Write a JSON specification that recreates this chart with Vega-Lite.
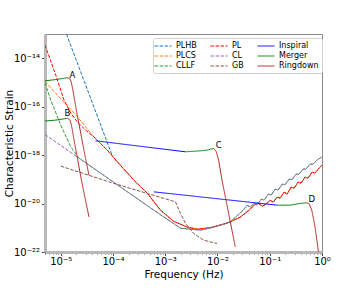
{
  "$schema": "https://vega.github.io/schema/vega-lite/v6.json",
  "width": 277,
  "height": 218,
  "autosize": {"type": "none"},
  "padding": {"left": 45, "top": 34, "right": 38, "bottom": 36},
  "background": "white",
  "config": {
    "font": "DejaVu Sans",
    "view": {"stroke": "#8a8a8a", "strokeWidth": 1},
    "axis": {
      "labelFont": "DejaVu Sans", "titleFont": "DejaVu Sans",
      "labelFontSize": 10, "titleFontSize": 10.5, "titleFontWeight": "normal",
      "grid": false, "domainColor": "#b8b8b8", "domainWidth": 3,
      "tickColor": "#444", "labelColor": "black", "titleColor": "black",
      "labelOverlap": false, "labelFlush": false
    }
  },
  "datasets": {
    "curves": [
      {"s": "PLHB", "e": "1", "f": 1.286e-5, "h": 1e-13},
      {"s": "PLHB", "e": "1", "f": 9.84e-5, "h": 8.6e-19},
      {"s": "PLHB", "e": "1", "f": 1.21e-4, "h": 5.28e-19},
      {"s": "PLHB", "e": "1", "f": 2.508e-4, "h": 9.27e-20},
      {"s": "PLHB", "e": "1", "f": 4.52e-4, "h": 2.69e-20},
      {"s": "PLHB", "e": "1", "f": 8.11e-4, "h": 5.34e-21},
      {"s": "PLHB", "e": "1", "f": 1.435e-3, "h": 1.87e-21},
      {"s": "PLHB", "e": "1", "f": 2.656e-3, "h": 1.059e-21},
      {"s": "PLHB", "e": "1", "f": 4.12e-3, "h": 8.75e-22},
      {"s": "PLHB", "e": "1", "f": 7.29e-3, "h": 1.01e-21},
      {"s": "PLHB", "e": "1", "f": 1.54e-2, "h": 1.55e-21},
      {"s": "PLHB", "e": "1", "f": 2.73e-2, "h": 2.74e-21},
      {"s": "PLHB", "e": "1", "f": 4.23e-2, "h": 5.87e-21},
      {"s": "PLHB", "e": "1", "f": 0.0527, "h": 9.45e-21},
      {"s": "PLHB", "e": "1", "f": 0.0601, "h": 1.04e-20},
      {"s": "PLHB", "e": "1", "f": 0.0717, "h": 7.81e-21},
      {"s": "PLHB", "e": "1", "f": 0.0855, "h": 9.45e-21},
      {"s": "PLHB", "e": "1", "f": 0.1019, "h": 1.38e-20},
      {"s": "PLHB", "e": "1", "f": 0.1162, "h": 1.14e-20},
      {"s": "PLHB", "e": "1", "f": 0.1386, "h": 1.84e-20},
      {"s": "PLHB", "e": "1", "f": 0.1581, "h": 1.67e-20},
      {"s": "PLHB", "e": "1", "f": 0.1885, "h": 2.96e-20},
      {"s": "PLHB", "e": "1", "f": 0.2151, "h": 2.45e-20},
      {"s": "PLHB", "e": "1", "f": 0.2564, "h": 4.76e-20},
      {"s": "PLHB", "e": "1", "f": 0.2925, "h": 4.33e-20},
      {"s": "PLHB", "e": "1", "f": 0.3487, "h": 7.66e-20},
      {"s": "PLHB", "e": "1", "f": 0.398, "h": 6.97e-20},
      {"s": "PLHB", "e": "1", "f": 0.4745, "h": 1.23e-19},
      {"s": "PLHB", "e": "1", "f": 0.5413, "h": 1.12e-19},
      {"s": "PLHB", "e": "1", "f": 0.6452, "h": 1.98e-19},
      {"s": "PLHB", "e": "1", "f": 0.736, "h": 1.8e-19},
      {"s": "PLHB", "e": "1", "f": 0.8776, "h": 2.9e-19},
      {"s": "PLHB", "e": "1", "f": 1.0, "h": 3.86e-19},

      {"s": "PLCS", "e": "1", "f": 5e-6, "h": 1.1e-15},
      {"s": "PLCS", "e": "1", "f": 2.085e-5, "h": 3.83e-17},
      {"s": "PLCS", "e": "1", "f": 4.325e-5, "h": 5.54e-18},
      {"s": "PLCS", "e": "1", "f": 7.79e-5, "h": 1.61e-18},
      {"s": "PLCS", "e": "1", "f": 1.21e-4, "h": 5.28e-19},
      {"s": "PLCS", "e": "1", "f": 2.508e-4, "h": 9.27e-20},
      {"s": "PLCS", "e": "1", "f": 4.52e-4, "h": 2.69e-20},
      {"s": "PLCS", "e": "1", "f": 8.11e-4, "h": 5.34e-21},
      {"s": "PLCS", "e": "1", "f": 1.435e-3, "h": 1.87e-21},
      {"s": "PLCS", "e": "1", "f": 2.656e-3, "h": 1.059e-21},
      {"s": "PLCS", "e": "1", "f": 4.12e-3, "h": 8.75e-22},
      {"s": "PLCS", "e": "1", "f": 7.29e-3, "h": 1.01e-21},
      {"s": "PLCS", "e": "1", "f": 1.54e-2, "h": 1.55e-21},
      {"s": "PLCS", "e": "1", "f": 2.73e-2, "h": 2.74e-21},
      {"s": "PLCS", "e": "1", "f": 4.23e-2, "h": 5.87e-21},
      {"s": "PLCS", "e": "1", "f": 0.0527, "h": 9.45e-21},
      {"s": "PLCS", "e": "1", "f": 0.0601, "h": 1.04e-20},
      {"s": "PLCS", "e": "1", "f": 0.0717, "h": 7.81e-21},
      {"s": "PLCS", "e": "1", "f": 0.0855, "h": 9.45e-21},
      {"s": "PLCS", "e": "1", "f": 0.1019, "h": 1.38e-20},
      {"s": "PLCS", "e": "1", "f": 0.1162, "h": 1.14e-20},
      {"s": "PLCS", "e": "1", "f": 0.1386, "h": 1.84e-20},
      {"s": "PLCS", "e": "1", "f": 0.1581, "h": 1.67e-20},
      {"s": "PLCS", "e": "1", "f": 0.1885, "h": 2.96e-20},
      {"s": "PLCS", "e": "1", "f": 0.2151, "h": 2.45e-20},
      {"s": "PLCS", "e": "1", "f": 0.2564, "h": 4.76e-20},
      {"s": "PLCS", "e": "1", "f": 0.2925, "h": 4.33e-20},
      {"s": "PLCS", "e": "1", "f": 0.3487, "h": 7.66e-20},
      {"s": "PLCS", "e": "1", "f": 0.398, "h": 6.97e-20},
      {"s": "PLCS", "e": "1", "f": 0.4745, "h": 1.23e-19},
      {"s": "PLCS", "e": "1", "f": 0.5413, "h": 1.12e-19},
      {"s": "PLCS", "e": "1", "f": 0.6452, "h": 1.98e-19},
      {"s": "PLCS", "e": "1", "f": 0.736, "h": 1.8e-19},
      {"s": "PLCS", "e": "1", "f": 0.8776, "h": 2.9e-19},
      {"s": "PLCS", "e": "1", "f": 1.0, "h": 3.86e-19},

      {"s": "CLLF", "e": "1", "f": 5e-6, "h": 9.6e-16},
      {"s": "CLLF", "e": "1", "f": 6.45e-6, "h": 1.87e-16},
      {"s": "CLLF", "e": "1", "f": 1.0e-5, "h": 1.74e-17},
      {"s": "CLLF", "e": "1", "f": 1.554e-5, "h": 2.2e-18},
      {"s": "CLLF", "e": "1", "f": 2.21e-5, "h": 7.64e-19},
      {"s": "CLLF", "e": "1", "f": 6.04e-4, "h": 5.34e-21},
      {"s": "CLLF", "e": "1", "f": 1.953e-3, "h": 9.63e-22},
      {"s": "CLLF", "e": "1", "f": 4.7e-3, "h": 7.96e-22},
      {"s": "CLLF", "e": "1", "f": 8.32e-3, "h": 1.059e-21},
      {"s": "CLLF", "e": "1", "f": 1.757e-2, "h": 1.75e-21},
      {"s": "CLLF", "e": "1", "f": 3.11e-2, "h": 5.34e-21},
      {"s": "CLLF", "e": "1", "f": 0.0371, "h": 8.59e-21},
      {"s": "CLLF", "e": "1", "f": 0.0423, "h": 7.1e-21},
      {"s": "CLLF", "e": "1", "f": 0.0504, "h": 1.04e-20},
      {"s": "CLLF", "e": "1", "f": 0.0576, "h": 8.59e-21},
      {"s": "CLLF", "e": "1", "f": 0.0686, "h": 1.52e-20},
      {"s": "CLLF", "e": "1", "f": 0.0783, "h": 1.38e-20},
      {"s": "CLLF", "e": "1", "f": 0.0933, "h": 2.45e-20},
      {"s": "CLLF", "e": "1", "f": 0.1065, "h": 2.22e-20},
      {"s": "CLLF", "e": "1", "f": 0.1269, "h": 3.94e-20},
      {"s": "CLLF", "e": "1", "f": 0.1448, "h": 3.58e-20},
      {"s": "CLLF", "e": "1", "f": 0.1727, "h": 6.33e-20},
      {"s": "CLLF", "e": "1", "f": 0.197, "h": 6.04e-20},
      {"s": "CLLF", "e": "1", "f": 0.2349, "h": 1.02e-19},
      {"s": "CLLF", "e": "1", "f": 0.2679, "h": 9.72e-20},
      {"s": "CLLF", "e": "1", "f": 0.3194, "h": 1.64e-19},
      {"s": "CLLF", "e": "1", "f": 0.3644, "h": 1.64e-19},
      {"s": "CLLF", "e": "1", "f": 0.4346, "h": 2.64e-19},
      {"s": "CLLF", "e": "1", "f": 0.4957, "h": 2.64e-19},
      {"s": "CLLF", "e": "1", "f": 0.5909, "h": 4.25e-19},
      {"s": "CLLF", "e": "1", "f": 0.6742, "h": 4.25e-19},
      {"s": "CLLF", "e": "1", "f": 0.8036, "h": 6.21e-19},
      {"s": "CLLF", "e": "1", "f": 1.0, "h": 8.51e-19},

      {"s": "PL", "e": "1", "f": 5e-6, "h": 3.44e-14},
      {"s": "PL", "e": "1", "f": 8.04e-6, "h": 2.02e-15},
      {"s": "PL", "e": "1", "f": 1.157e-5, "h": 1.87e-16},
      {"s": "PL", "e": "1", "f": 1.554e-5, "h": 5.44e-17},
      {"s": "PL", "e": "1", "f": 2.085e-5, "h": 2.31e-17},
      {"s": "PL", "e": "1", "f": 3.0e-5, "h": 1.079e-17},
      {"s": "PL", "e": "1", "f": 4.325e-5, "h": 5.54e-18},
      {"s": "PL", "e": "1", "f": 7.79e-5, "h": 1.61e-18},
      {"s": "PL", "e": "1", "f": 1.21e-4, "h": 5.28e-19},
      {"s": "PL", "e": "1", "f": 2.508e-4, "h": 9.27e-20},
      {"s": "PL", "e": "1", "f": 4.52e-4, "h": 2.69e-20},
      {"s": "PL", "e": "1", "f": 8.11e-4, "h": 5.34e-21},
      {"s": "PL", "e": "1", "f": 1.435e-3, "h": 1.87e-21},
      {"s": "PL", "e": "1", "f": 2.656e-3, "h": 1.059e-21},
      {"s": "PL", "e": "1", "f": 4.12e-3, "h": 8.75e-22},
      {"s": "PL", "e": "1", "f": 7.29e-3, "h": 1.01e-21},
      {"s": "PL", "e": "1", "f": 1.54e-2, "h": 1.55e-21},
      {"s": "PL", "e": "1", "f": 2.73e-2, "h": 2.74e-21},
      {"s": "PL", "e": "1", "f": 4.23e-2, "h": 5.87e-21},
      {"s": "PL", "e": "1", "f": 0.0527, "h": 9.45e-21},
      {"s": "PL", "e": "1", "f": 0.0601, "h": 1.04e-20},
      {"s": "PL", "e": "1", "f": 0.0717, "h": 7.81e-21},
      {"s": "PL", "e": "1", "f": 0.0855, "h": 9.45e-21},
      {"s": "PL", "e": "1", "f": 0.1019, "h": 1.38e-20},
      {"s": "PL", "e": "1", "f": 0.1162, "h": 1.14e-20},
      {"s": "PL", "e": "1", "f": 0.1386, "h": 1.84e-20},
      {"s": "PL", "e": "1", "f": 0.1581, "h": 1.67e-20},
      {"s": "PL", "e": "1", "f": 0.1885, "h": 2.96e-20},
      {"s": "PL", "e": "1", "f": 0.2151, "h": 2.45e-20},
      {"s": "PL", "e": "1", "f": 0.2564, "h": 4.76e-20},
      {"s": "PL", "e": "1", "f": 0.2925, "h": 4.33e-20},
      {"s": "PL", "e": "1", "f": 0.3487, "h": 7.66e-20},
      {"s": "PL", "e": "1", "f": 0.398, "h": 6.97e-20},
      {"s": "PL", "e": "1", "f": 0.4745, "h": 1.23e-19},
      {"s": "PL", "e": "1", "f": 0.5413, "h": 1.12e-19},
      {"s": "PL", "e": "1", "f": 0.6452, "h": 1.98e-19},
      {"s": "PL", "e": "1", "f": 0.736, "h": 1.8e-19},
      {"s": "PL", "e": "1", "f": 0.8776, "h": 2.9e-19},
      {"s": "PL", "e": "1", "f": 1.0, "h": 3.86e-19},

      {"s": "CL", "e": "1", "f": 5e-6, "h": 7.1e-18},
      {"s": "CL", "e": "1", "f": 6.04e-4, "h": 5.34e-21},
      {"s": "CL", "e": "1", "f": 1.953e-3, "h": 9.63e-22},
      {"s": "CL", "e": "1", "f": 4.7e-3, "h": 7.96e-22},
      {"s": "CL", "e": "1", "f": 8.32e-3, "h": 1.059e-21},
      {"s": "CL", "e": "1", "f": 1.757e-2, "h": 1.75e-21},
      {"s": "CL", "e": "1", "f": 3.11e-2, "h": 5.34e-21},
      {"s": "CL", "e": "1", "f": 0.0371, "h": 8.59e-21},
      {"s": "CL", "e": "1", "f": 0.0423, "h": 7.1e-21},
      {"s": "CL", "e": "1", "f": 0.0504, "h": 1.04e-20},
      {"s": "CL", "e": "1", "f": 0.0576, "h": 8.59e-21},
      {"s": "CL", "e": "1", "f": 0.0686, "h": 1.52e-20},
      {"s": "CL", "e": "1", "f": 0.0783, "h": 1.38e-20},
      {"s": "CL", "e": "1", "f": 0.0933, "h": 2.45e-20},
      {"s": "CL", "e": "1", "f": 0.1065, "h": 2.22e-20},
      {"s": "CL", "e": "1", "f": 0.1269, "h": 3.94e-20},
      {"s": "CL", "e": "1", "f": 0.1448, "h": 3.58e-20},
      {"s": "CL", "e": "1", "f": 0.1727, "h": 6.33e-20},
      {"s": "CL", "e": "1", "f": 0.197, "h": 6.04e-20},
      {"s": "CL", "e": "1", "f": 0.2349, "h": 1.02e-19},
      {"s": "CL", "e": "1", "f": 0.2679, "h": 9.72e-20},
      {"s": "CL", "e": "1", "f": 0.3194, "h": 1.64e-19},
      {"s": "CL", "e": "1", "f": 0.3644, "h": 1.64e-19},
      {"s": "CL", "e": "1", "f": 0.4346, "h": 2.64e-19},
      {"s": "CL", "e": "1", "f": 0.4957, "h": 2.64e-19},
      {"s": "CL", "e": "1", "f": 0.5909, "h": 4.25e-19},
      {"s": "CL", "e": "1", "f": 0.6742, "h": 4.25e-19},
      {"s": "CL", "e": "1", "f": 0.8036, "h": 6.21e-19},
      {"s": "CL", "e": "1", "f": 1.0, "h": 8.51e-19},

      {"s": "GB", "e": "1", "f": 1.0e-5, "h": 3.51e-19},
      {"s": "GB", "e": "1", "f": 1.042e-4, "h": 6.77e-20},
      {"s": "GB", "e": "1", "f": 1.567e-3, "h": 1.175e-20},
      {"s": "GB", "e": "1", "f": 1.953e-3, "h": 3.9e-21},
      {"s": "GB", "e": "1", "f": 2.432e-3, "h": 1.55e-21},
      {"s": "GB", "e": "1", "f": 3.5e-3, "h": 5.81e-22},
      {"s": "GB", "e": "1", "f": 5.44e-3, "h": 3.07e-22},
      {"s": "GB", "e": "1", "f": 9.79e-3, "h": 2.24e-22},

      {"s": "Inspiral", "e": "C", "f": 4.66e-5, "h": 3.9e-18},
      {"s": "Inspiral", "e": "C", "f": 2.432e-3, "h": 1.37e-18},
      {"s": "Inspiral", "e": "D", "f": 6.04e-4, "h": 3.04e-20},
      {"s": "Inspiral", "e": "D", "f": 0.1368, "h": 8.59e-21},

      {"s": "Merger", "e": "A", "f": 5e-6, "h": 1.164e-15},
      {"s": "Merger", "e": "A", "f": 8.04e-6, "h": 1.317e-15},
      {"s": "Merger", "e": "A", "f": 1.344e-5, "h": 1.56e-15},
      {"s": "Merger", "e": "B", "f": 5e-6, "h": 2.54e-17},
      {"s": "Merger", "e": "B", "f": 8.04e-6, "h": 2.79e-17},
      {"s": "Merger", "e": "B", "f": 1.344e-5, "h": 3.29e-17},
      {"s": "Merger", "e": "C", "f": 2.432e-3, "h": 1.37e-18},
      {"s": "Merger", "e": "C", "f": 4.7e-3, "h": 1.505e-18},
      {"s": "Merger", "e": "C", "f": 6.39e-3, "h": 1.61e-18},
      {"s": "Merger", "e": "C", "f": 8.43e-3, "h": 1.89e-18},
      {"s": "Merger", "e": "D", "f": 0.1368, "h": 8.59e-21},
      {"s": "Merger", "e": "D", "f": 0.2454, "h": 8.59e-21},
      {"s": "Merger", "e": "D", "f": 0.381, "h": 1.01e-20},
      {"s": "Merger", "e": "D", "f": 0.511, "h": 1.07e-20},

      {"s": "Ringdown", "e": "A", "f": 1.344e-5, "h": 1.56e-15},
      {"s": "Ringdown", "e": "A", "f": 1.487e-5, "h": 1.45e-15},
      {"s": "Ringdown", "e": "A", "f": 1.588e-5, "h": 1.039e-15},
      {"s": "Ringdown", "e": "A", "f": 1.696e-5, "h": 5.34e-16},
      {"s": "Ringdown", "e": "A", "f": 1.796e-5, "h": 2.49e-16},
      {"s": "Ringdown", "e": "A", "f": 2.022e-5, "h": 5.98e-17},
      {"s": "Ringdown", "e": "A", "f": 2.411e-5, "h": 8.11e-18},
      {"s": "Ringdown", "e": "A", "f": 2.873e-5, "h": 1.1e-18},
      {"s": "Ringdown", "e": "A", "f": 3.47e-5, "h": 1.49e-19},
      {"s": "Ringdown", "e": "B", "f": 1.344e-5, "h": 3.29e-17},
      {"s": "Ringdown", "e": "B", "f": 1.487e-5, "h": 2.93e-17},
      {"s": "Ringdown", "e": "B", "f": 1.588e-5, "h": 1.91e-17},
      {"s": "Ringdown", "e": "B", "f": 1.696e-5, "h": 8.92e-18},
      {"s": "Ringdown", "e": "B", "f": 1.796e-5, "h": 4.17e-18},
      {"s": "Ringdown", "e": "B", "f": 2.085e-5, "h": 7.52e-19},
      {"s": "Ringdown", "e": "B", "f": 2.411e-5, "h": 1.356e-19},
      {"s": "Ringdown", "e": "B", "f": 2.873e-5, "h": 2.02e-20},
      {"s": "Ringdown", "e": "B", "f": 3.47e-5, "h": 2.82e-21},
      {"s": "Ringdown", "e": "C", "f": 8.43e-3, "h": 1.89e-18},
      {"s": "Ringdown", "e": "C", "f": 9.5e-3, "h": 1.37e-18},
      {"s": "Ringdown", "e": "C", "f": 1.051e-2, "h": 6.21e-19},
      {"s": "Ringdown", "e": "C", "f": 1.22e-2, "h": 9.27e-20},
      {"s": "Ringdown", "e": "C", "f": 2.19e-2, "h": 1.62e-22},
      {"s": "Ringdown", "e": "D", "f": 0.511, "h": 1.07e-20},
      {"s": "Ringdown", "e": "D", "f": 0.565, "h": 9.9e-21},
      {"s": "Ringdown", "e": "D", "f": 0.637, "h": 5.34e-21},
      {"s": "Ringdown", "e": "D", "f": 0.736, "h": 1.09e-21},
      {"s": "Ringdown", "e": "D", "f": 0.858, "h": 9.8e-23}
    ],
    "labels": [
      {"t": "A", "f": 1.674e-5, "h": 2.12e-15},
      {"t": "B", "f": 1.344e-5, "h": 5.28e-17},
      {"t": "C", "f": 1.051e-2, "h": 2.59e-18},
      {"t": "D", "f": 0.637, "h": 1.477e-20}
    ]
  },
  "layer": [
    {
      "data": {"name": "curves"},
      "mark": {"type": "line", "clip": true},
      "encoding": {
        "x": {
          "field": "f", "type": "quantitative",
          "scale": {"type": "log", "domain": [5e-6, 1], "nice": false},
          "axis": {
            "title": "Frequency (Hz)", "titlePadding": 3,
            "values": [5e-6, 6e-6, 7e-6, 8e-6, 9e-6, 1e-5, 2e-5, 3e-5, 4e-5, 5e-5, 6e-5, 7e-5, 8e-5, 9e-5, 1e-4, 2e-4, 3e-4, 4e-4, 5e-4, 6e-4, 7e-4, 8e-4, 9e-4, 1e-3, 2e-3, 3e-3, 4e-3, 5e-3, 6e-3, 7e-3, 8e-3, 9e-3, 1e-2, 2e-2, 3e-2, 4e-2, 5e-2, 6e-2, 7e-2, 8e-2, 9e-2, 0.1, 0.2, 0.3, 0.4, 0.5, 0.6, 0.7, 0.8, 0.9, 1],
            "tickSize": {"condition": {"test": "abs(log(datum.value)/LN10 - round(log(datum.value)/LN10)) < 0.01", "value": 3.5}, "value": 2},
            "labelPadding": 1,
            "labelExpr": "round(log(datum.value)/LN10*100)==-500?'10⁻⁵':round(log(datum.value)/LN10*100)==-400?'10⁻⁴':round(log(datum.value)/LN10*100)==-300?'10⁻³':round(log(datum.value)/LN10*100)==-200?'10⁻²':round(log(datum.value)/LN10*100)==-100?'10⁻¹':round(log(datum.value)/LN10*100)==0?'10⁰':''"
          }
        },
        "y": {
          "field": "h", "type": "quantitative",
          "scale": {"type": "log", "domain": [1e-22, 1e-13], "nice": false},
          "axis": {
            "title": "Characteristic Strain", "titleX": -31,
            "values": [1e-22, 1e-20, 1e-18, 1e-16, 1e-14],
            "tickSize": 3.5, "labelPadding": 2,
            "labelExpr": "round(log(datum.value)/LN10)==-22?'10⁻²²':round(log(datum.value)/LN10)==-20?'10⁻²⁰':round(log(datum.value)/LN10)==-18?'10⁻¹⁸':round(log(datum.value)/LN10)==-16?'10⁻¹⁶':round(log(datum.value)/LN10)==-14?'10⁻¹⁴':''"
          }
        },
        "color": {
          "field": "s", "type": "nominal", "title": null,
          "scale": {
            "domain": ["PLHB", "PLCS", "CLLF", "PL", "CL", "GB", "Inspiral", "Merger", "Ringdown"],
            "range": ["#1f77b4", "#ff7f0e", "#2ca02c", "#ff0000", "#9467bd", "#8c564b", "#0000ff", "#008000", "#b22222"]
          },
          "legend": {
            "orient": "none", "legendX": 108, "legendY": 4, "columns": 3,
            "symbolType": "M-2,0L2,0", "symbolSize": 72, "symbolStrokeWidth": 1.3,
            "symbolOffset": 2,
            "labelFontSize": 8, "labelFont": "DejaVu Sans", "labelOffset": 8,
            "padding": 3, "rowPadding": 1, "columnPadding": 11,
            "fillColor": "white", "strokeColor": "#d0d0d0", "cornerRadius": 2,
            "encode": {
              "symbols": {
                "update": {
                  "strokeDash": {"signal": "indexof(['Inspiral','Merger','Ringdown'], datum.value) >= 0 ? [1,0] : [3,1.5]"}
                }
              }
            }
          }
        },
        "strokeDash": {
          "field": "s", "type": "nominal", "legend": null,
          "scale": {
            "domain": ["PLHB", "PLCS", "CLLF", "PL", "CL", "GB", "Inspiral", "Merger", "Ringdown"],
            "range": [[3.5, 1.5], [3.5, 1.5], [3.5, 1.5], [3.5, 1.5], [3.5, 1.5], [3.5, 1.5], [1, 0], [1, 0], [1, 0]]
          }
        },
        "strokeWidth": {
          "field": "s", "type": "nominal", "legend": null,
          "scale": {
            "domain": ["PLHB", "PLCS", "CLLF", "PL", "CL", "GB", "Inspiral", "Merger", "Ringdown"],
            "range": [1, 1, 1, 1.2, 1, 1, 1.4, 1.4, 1.4]
          }
        },
        "detail": {"field": "e", "type": "nominal"}
      }
    },
    {
      "data": {"name": "labels"},
      "mark": {"type": "text", "fontSize": 8.5, "font": "DejaVu Sans", "color": "black", "align": "center", "baseline": "middle"},
      "encoding": {
        "x": {"field": "f", "type": "quantitative"},
        "y": {"field": "h", "type": "quantitative"},
        "text": {"field": "t"}
      }
    }
  ]
}
